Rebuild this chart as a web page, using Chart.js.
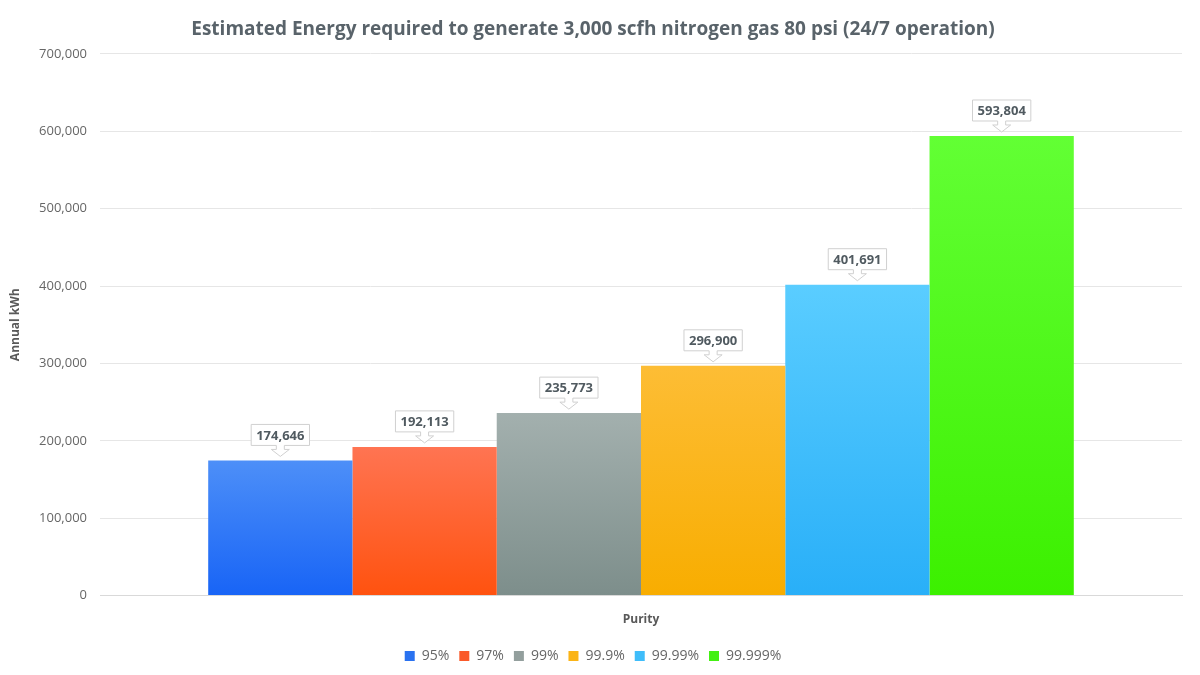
<!DOCTYPE html>
<html>
<head>
<meta charset="utf-8">
<script src="https://cdn.jsdelivr.net/npm/chart.js@4/dist/chart.umd.min.js"></script>
<style>
  html, body { margin: 0; padding: 0; background: #fff; }
  #wrap { width: 1200px; height: 675px; }
</style>
</head>
<body>
<div id="wrap"><canvas id="chart" width="1200" height="675"></canvas></div>
<script>
const categories = [''];
const seriesNames = ['95%', '97%', '99%', '99.9%', '99.99%', '99.999%'];
const seriesValues = [174646, 192113, 235773, 296900, 401691, 593804];
const yTicks = [0, 100000, 200000, 300000, 400000, 500000, 600000, 700000];

// top / bottom of each bar's gradient, and the legend swatch
const colTop = ['#4d8ff8', '#ff7452', '#a3b0ae', '#fdbd35', '#5acdff', '#62ff34'];
const colBottom = ['#1864f6', '#ff520f', '#7d8e8b', '#f8ad00', '#29aff8', '#3cf000'];
const colLegend = ['#2a72f0', '#fa5a2a', '#939f9d', '#fbb416', '#3fbdfa', '#44f013'];

const fmt = v => v.toLocaleString('en-US');

function barGradient(ctx) {
    const chart = ctx.chart;
    const i = ctx.datasetIndex;
    if (!chart.chartArea || !chart.scales.y) return colBottom[i];
    const top = chart.scales.y.getPixelForValue(seriesValues[i]);
    const bottom = chart.scales.y.getPixelForValue(0);
    const g = chart.ctx.createLinearGradient(0, top, 0, bottom);
    g.addColorStop(0, colTop[i]);
    g.addColorStop(1, colBottom[i]);
    return g;
}

const calloutPlugin = {
    id: 'callouts',
    afterDatasetsDraw(chart) {
        const c = chart.ctx;
        c.save();
        c.font = "bold 13px 'Open Sans'";
        c.textAlign = 'center';
        c.textBaseline = 'middle';
        chart.data.datasets.forEach((ds, i) => {
            const bar = chart.getDatasetMeta(i).data[0];
            if (!bar) return;
            const txt = fmt(ds.data[0]);
            const w = c.measureText(txt).width + 10;
            const h = 21;
            const cx = bar.x;
            const tip = bar.y - 4;
            const b = tip - 11;
            const t = b - h;
            const l = cx - w / 2, r = cx + w / 2;
            c.beginPath();
            c.moveTo(l, t);
            c.lineTo(r, t);
            c.lineTo(r, b);
            c.lineTo(cx + 4, b);
            c.lineTo(cx + 4, b + 4);
            c.lineTo(cx + 9, b + 4);
            c.lineTo(cx, tip);
            c.lineTo(cx - 9, b + 4);
            c.lineTo(cx - 4, b + 4);
            c.lineTo(cx - 4, b);
            c.lineTo(l, b);
            c.closePath();
            c.fillStyle = '#ffffff';
            c.fill();
            c.strokeStyle = '#d0d0d0';
            c.lineWidth = 1;
            c.stroke();
            c.fillStyle = '#505a60';
            c.fillText(txt, cx, (t + b) / 2 + 1);
        });
        c.restore();
    }
};

const datasets = seriesNames.map((name, i) => ({
    label: name,
    data: [seriesValues[i]],
    backgroundColor: barGradient,
    borderWidth: 0,
    categoryPercentage: 0.8,
    barPercentage: 1.0
}));

new Chart(document.getElementById('chart'), {
    type: 'bar',
    data: { labels: categories, datasets: datasets },
    plugins: [calloutPlugin],
    options: {
        responsive: false,
        animation: false,
        layout: { padding: { left: 4, right: 18, top: 4, bottom: 2 } },
        plugins: {
            title: {
                display: true,
                text: 'Estimated Energy required to generate 3,000 scfh nitrogen gas 80 psi (24/7 operation)',
                color: '#59636a',
                font: { size: 19, weight: 'bold', family: "'Open Sans'" },
                padding: { top: 14, bottom: 13 }
            },
            legend: {
                position: 'bottom',
                labels: {
                    boxWidth: 10,
                    boxHeight: 10,
                    padding: 10,
                    color: '#666666',
                    font: { size: 14, family: "'Open Sans'" },
                    generateLabels(chart) {
                        return chart.data.datasets.map((ds, i) => ({
                            text: ds.label,
                            fillStyle: colLegend[i],
                            strokeStyle: colLegend[i],
                            lineWidth: 0,
                            datasetIndex: i,
                            fontColor: '#666666'
                        }));
                    }
                }
            },
            tooltip: { enabled: false }
        },
        scales: {
            x: {
                ticks: { display: false },
                grid: { display: false },
                border: { color: '#d9d9d9' },
                title: {
                    display: true,
                    text: 'Purity',
                    color: '#595959',
                    font: { size: 12, weight: 'bold', family: "'Open Sans'" },
                    padding: { top: 9, bottom: 12 }
                }
            },
            y: {
                min: 0,
                max: 700000,
                afterBuildTicks(scale) {
                    scale.ticks = yTicks.map(v => ({ value: v }));
                },
                afterFit(scale) { scale.width = 96; },
                ticks: {
                    color: '#666666',
                    font: { size: 13, family: "'Open Sans'" },
                    padding: 13,
                    callback: v => fmt(v)
                },
                grid: { color: '#e6e6e6', drawTicks: false },
                border: { display: false },
                title: {
                    display: true,
                    text: 'Annual kWh',
                    color: '#595959',
                    font: { size: 12, weight: 'bold', family: "'Open Sans'" },
                    padding: { bottom: 6 }
                }
            }
        }
    }
});
</script>
</body>
</html>
